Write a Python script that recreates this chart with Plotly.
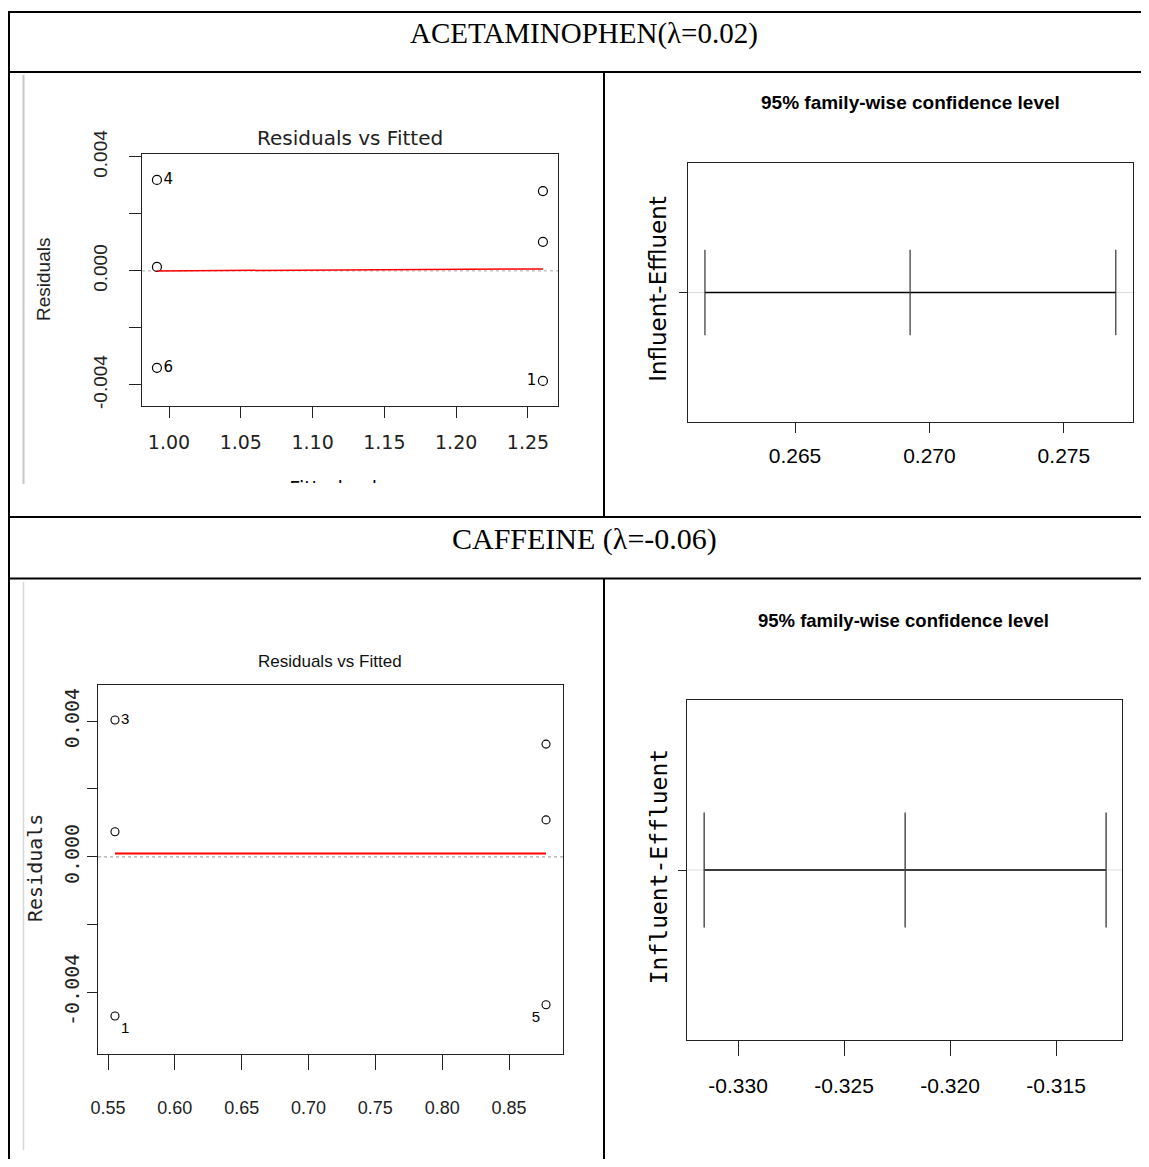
import plotly.graph_objects as go

# page is rendered with an 8px body margin, so the figure starts at window pixel (8, 8);
# height kept so the page does not need a vertical scrollbar
OFF = 8
W, H = 1149 - OFF, 1167 - 2 * OFF

# ---------------- data ----------------
acet_fitted = [1.2604, 1.2604, 1.2604, 0.9916, 0.9916, 0.9916]
acet_resid = [-0.00386, 0.00280, 0.00102, 0.00319, 0.00014, -0.00340]
acet_labels = ["1", "", "", "4", "", "6"]
acet_labelpos = ["middle left", "middle right", "middle right", "middle right", "middle right", "middle right"]
acet_smooth_x = [0.9916, 1.2604]
acet_smooth_y = [0.0, 0.00007]

caf_fitted = [0.5552, 0.5552, 0.5552, 0.8777, 0.8777, 0.8777]
caf_resid = [-0.00468, 0.00074, 0.00403, 0.00332, -0.00435, 0.00109]
caf_labels = ["1", "", "3", "", "5", ""]
caf_labelpos = ["bottom right", "middle right", "middle right", "middle right", "bottom left", "middle right"]
caf_smooth_x = [0.5552, 0.8777]
caf_smooth_y = [0.0001, 0.0001]

comparison = ["Influent-Effluent"]
acet_tukey_lwr = [0.26165]
acet_tukey_diff = [0.26928]
acet_tukey_upr = [0.27693]
caf_tukey_lwr = [-0.3316]
caf_tukey_diff = [-0.32212]
caf_tukey_upr = [-0.31264]

acet_xticks = [1.00, 1.05, 1.10, 1.15, 1.20, 1.25]
caf_xticks = [0.55, 0.60, 0.65, 0.70, 0.75, 0.80, 0.85]
resid_yticks = [-0.004, -0.002, 0.0, 0.002, 0.004]
resid_yticktext = ["-0.004", "", "0.000", "", "0.004"]
acet_tukey_xticks = [0.265, 0.270, 0.275]
acet_tukey_xticktext = ["0.265", "0.270", "0.275"]
caf_tukey_xticks = [-0.330, -0.325, -0.320, -0.315]
caf_tukey_xticktext = ["-0.330", "-0.325", "-0.320", "-0.315"]

# ---------------- helpers (window pixel -> paper) ----------------
def fx(px):
    return (px - OFF) / W

def fy(py):
    return 1 - (py - OFF) / H

ARIAL = "Liberation Sans, Arial, sans-serif"
DEJAVU = "DejaVu Sans, sans-serif"
MONO = "DejaVu Sans Mono, monospace"
SERIF = "Liberation Serif, Times New Roman, serif"

fig = go.Figure()

# ---- panel 1: acetaminophen residuals vs fitted ----
fig.add_trace(go.Scatter(
    x=acet_fitted, y=acet_resid, mode="markers+text", text=acet_labels,
    textposition=acet_labelpos, textfont=dict(family=DEJAVU, size=15, color="black"),
    marker=dict(symbol="circle-open", size=9, color="black", line=dict(width=1.2)),
    xaxis="x", yaxis="y", showlegend=False, cliponaxis=False))
fig.add_trace(go.Scatter(
    x=acet_smooth_x, y=acet_smooth_y, mode="lines",
    line=dict(color="red", width=1.5), xaxis="x", yaxis="y", showlegend=False))

# ---- panel 2: acetaminophen Tukey ----
fig.add_trace(go.Scatter(
    x=[acet_tukey_lwr[0], acet_tukey_upr[0]], y=[1, 1], mode="lines",
    line=dict(color="black", width=1.3), xaxis="x2", yaxis="y2", showlegend=False))
fig.add_trace(go.Scatter(
    x=[acet_tukey_lwr[0], acet_tukey_diff[0], acet_tukey_upr[0]], y=[1, 1, 1], mode="markers",
    marker=dict(symbol="line-ns", size=61, color="#333", line=dict(width=1.2, color="#333")),
    xaxis="x2", yaxis="y2", showlegend=False))

# ---- panel 3: caffeine residuals vs fitted ----
fig.add_trace(go.Scatter(
    x=caf_fitted, y=caf_resid, mode="markers+text", text=caf_labels,
    textposition=caf_labelpos, textfont=dict(family=ARIAL, size=15, color="black"),
    marker=dict(symbol="circle-open", size=8, color="black", line=dict(width=1.1)),
    xaxis="x3", yaxis="y3", showlegend=False, cliponaxis=False))
fig.add_trace(go.Scatter(
    x=caf_smooth_x, y=caf_smooth_y, mode="lines",
    line=dict(color="red", width=2), xaxis="x3", yaxis="y3", showlegend=False))

# ---- panel 4: caffeine Tukey ----
fig.add_trace(go.Scatter(
    x=[caf_tukey_lwr[0], caf_tukey_upr[0]], y=[1, 1], mode="lines",
    line=dict(color="black", width=1.5), xaxis="x4", yaxis="y4", showlegend=False))
fig.add_trace(go.Scatter(
    x=[caf_tukey_lwr[0], caf_tukey_diff[0], caf_tukey_upr[0]], y=[1, 1, 1], mode="markers",
    marker=dict(symbol="line-ns", size=82, color="#444", line=dict(width=1.4, color="#444")),
    xaxis="x4", yaxis="y4", showlegend=False))

# ---- clipped x-axis title of panel 1 (image cut off in the original) ----
fig.add_trace(go.Scatter(
    x=[350], y=[-490], mode="text", text=["Fitted values"],
    textfont=dict(family=DEJAVU, size=19, color="black"),
    xaxis="x5", yaxis="y5", showlegend=False, cliponaxis=True, hoverinfo="skip"))

axis_common = dict(showline=True, mirror=True, linecolor="#222", linewidth=1.3,
                   showgrid=False, zeroline=False, ticks="outside", tickcolor="#222",
                   tickwidth=1.2, automargin=False)

layout = dict(
    template="none",
    width=W, height=H, margin=dict(l=0, r=0, t=0, b=0, autoexpand=False),
    paper_bgcolor="white", plot_bgcolor="rgba(0,0,0,0)", showlegend=False,
    xaxis=dict(axis_common, domain=[fx(142), fx(558)], range=[0.9812, 1.2709],
               tickvals=acet_xticks, tickformat=".2f", ticklen=11,
               tickfont=dict(family=DEJAVU, size=19, color="#222"),
               ticklabelstandoff=8, anchor="y"),
    yaxis=dict(axis_common, domain=[fy(406), fy(154)], range=[-0.00474, 0.0041],
               tickvals=resid_yticks, ticktext=resid_yticktext, tickangle=-90, ticklen=12,
               tickfont=dict(family=ARIAL, size=19, color="#222"),
               ticklabelstandoff=14, anchor="x"),
    xaxis2=dict(axis_common, domain=[fx(688), fx(1133)], range=[0.26102, 0.27757],
                tickvals=acet_tukey_xticks, ticktext=acet_tukey_xticktext, ticklen=10,
                tickfont=dict(family=ARIAL, size=21, color="black"),
                ticklabelstandoff=5, anchor="y2"),
    yaxis2=dict(axis_common, domain=[fy(422), fy(163)], range=[0.5, 1.5],
                tickvals=[1], ticktext=comparison, tickangle=-90, ticklen=8,
                tickfont=dict(family=DEJAVU, size=23, color="black"),
                ticklabelstandoff=4, anchor="x2"),
    xaxis3=dict(axis_common, domain=[fx(98), fx(563)], range=[0.5425, 0.8904],
                tickvals=caf_xticks, tickformat=".2f", ticklen=15,
                tickfont=dict(family=ARIAL, size=18, color="#222"),
                ticklabelstandoff=22, anchor="y3"),
    yaxis3=dict(axis_common, domain=[fy(1054), fy(685)], range=[-0.0058, 0.00506],
                tickvals=resid_yticks, ticktext=resid_yticktext, tickangle=-90, ticklen=10,
                tickfont=dict(family=MONO, size=20, color="#222"),
                ticklabelstandoff=0, anchor="x3"),
    xaxis4=dict(axis_common, domain=[fx(687), fx(1122)], range=[-0.33241, -0.31189],
                tickvals=caf_tukey_xticks, ticktext=caf_tukey_xticktext, ticklen=15,
                tickfont=dict(family=ARIAL, size=21, color="black"),
                ticklabelstandoff=12, anchor="y4"),
    yaxis4=dict(axis_common, domain=[fy(1040), fy(700)], range=[0.5, 1.5],
                tickvals=[1], ticktext=comparison, tickangle=-90, ticklen=8,
                tickfont=dict(family=MONO, size=23, color="black"),
                ticklabelstandoff=2, anchor="x4"),
    xaxis5=dict(domain=[fx(24), fx(604)], range=[24, 604], visible=False, anchor="y5"),
    yaxis5=dict(domain=[fy(483), fy(75)], range=[-483, -75], visible=False, anchor="x5"),
)
fig.update_layout(**layout)

shapes = []
def line(x0, y0, x1, y1, color="black", width=2):
    shapes.append(dict(type="line", xref="paper", yref="paper",
                       x0=fx(x0), y0=fy(y0), x1=fx(x1), y1=fy(y1),
                       line=dict(color=color, width=width), layer="above"))

# table rules
line(8, 12, 1149, 12)
line(8, 72, 1149, 72)
line(8, 517, 1149, 517)
line(8, 578.5, 1149, 578.5)
line(9, 11, 9, 1167)
line(604, 72, 604, 517)
line(604, 578, 604, 1167)
# faint image borders inside left cells
line(23.5, 75, 23.5, 484, color="#c8c8c8", width=2)
line(23.5, 582, 23.5, 1150, color="#d8d8d8", width=1.5)

# reference lines inside plots
shapes.append(dict(type="line", xref="x domain", yref="y", x0=0, x1=1, y0=0, y1=0,
                   line=dict(color="#aaaaaa", width=1, dash="dot"), layer="below"))
shapes.append(dict(type="line", xref="x3 domain", yref="y3", x0=0, x1=1, y0=0, y1=0,
                   line=dict(color="#aaaaaa", width=1.2, dash="dot"), layer="below"))
shapes.append(dict(type="line", xref="x2 domain", yref="y2", x0=0, x1=1, y0=1, y1=1,
                   line=dict(color="#dddddd", width=1), layer="below"))
shapes.append(dict(type="line", xref="x4 domain", yref="y4", x0=0, x1=1, y0=1, y1=1,
                   line=dict(color="#dddddd", width=1), layer="below"))
fig.update_layout(shapes=shapes)

def ann(text, px, py, family, size, angle=0, weight="normal", color="black"):
    fig.add_annotation(text=text, x=fx(px), y=fy(py), xref="paper", yref="paper",
                       showarrow=False, textangle=angle, xanchor="center", yanchor="middle",
                       font=dict(family=family, size=size, color=color, weight=weight))

ann("ACETAMINOPHEN(λ=0.02)", 584, 34, SERIF, 29)
ann("CAFFEINE (λ=-0.06)", 584, 539, SERIF, 30)
ann("Residuals vs Fitted", 350, 138, DEJAVU, 20, color="#222")
ann("Residuals", 43, 280, ARIAL, 19, angle=-90, color="#222")
ann("95% family-wise confidence level", 910, 103, ARIAL, 19, weight="bold")
ann("Residuals vs Fitted", 330, 661, ARIAL, 17, color="#111")
ann("Residuals", 35, 868, MONO, 20, angle=-90, color="#222")
ann("95% family-wise confidence level", 903, 620, ARIAL, 18.5, weight="bold")

fig.write_html("out.html")
